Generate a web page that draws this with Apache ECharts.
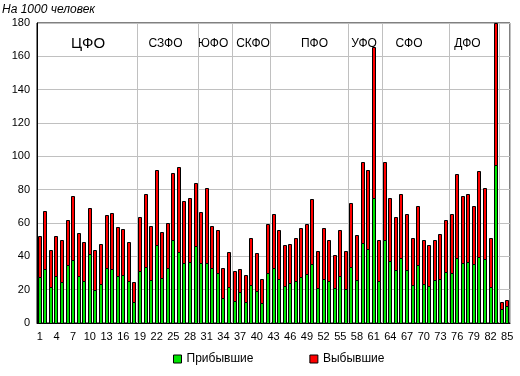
<!DOCTYPE html>
<html>
<head>
<meta charset="utf-8">
<script src="https://cdn.jsdelivr.net/npm/echarts@6/dist/echarts.min.js"></script>
<style>html,body{margin:0;padding:0;background:#fff}#c{width:520px;height:376px}</style>
</head>
<body>
<div id="c"></div>
<script>
// Categories (region numbers)
var categories = ['1','2','3','4','5','6','7','8','9','10','11','12','13','14','15','16','17','18','19','20',
'21','22','23','24','25','26','27','28','29','30','31','32','33','34','35','36','37','38','39','40',
'41','42','43','44','45','46','47','48','49','50','51','52','53','54','55','56','57','58','59','60',
'61','62','63','64','65','66','67','68','69','70','71','72','73','74','75','76','77','78','79','80',
'81','82','83','84','85'];

// Прибывшие (arrivals) per 1000
var arrived = [27.7,32.5,21.7,28.3,24.7,34.9,37.9,28.3,25.3,41.5,19.7,23.5,33.1,32.5,28.3,28.9,25.3,12.7,
31.3,33.7,25.9,46.7,27.1,33.1,49.9,42.5,36.1,36.7,46.3,
36.1,36.1,33.1,30.1,15.1,21.7,
13.3,18.7,12.7,22.9,19.3,12.1,30.1,
33.1,26.5,22.3,24.1,25.3,27.7,29.5,35.5,21.1,26.5,25.3,21.1,28.3,20.5,
33.7,25.9,48.1,44.5,75.1,25.3,
49.9,37.3,31.9,39.1,31.9,22.9,34.9,23.5,22.3,25.9,26.5,30.7,
30.1,39.1,36.1,36.7,35.5,39.7,38.5,21.7,95.1,
8.5,10.3];

// Выбывшие (departures) per 1000
var departed = [24.4,35.0,22.2,23.8,25.2,27.0,38.4,25.8,23.4,27.6,24.2,24.0,31.8,33.6,29.4,27.6,23.4,12.0,
32.4,43.8,32.4,45.2,27.6,27.0,40.2,51.2,37.2,38.4,37.8,
30.8,45.0,25.2,25.8,18.0,21.0,
18.0,13.8,16.2,28.2,22.8,14.4,29.4,
32.4,29.4,24.6,23.4,25.8,29.4,30.0,39.0,22.2,30.6,24.6,19.8,27.6,22.8,
38.4,27.0,48.6,47.4,90.6,24.6,
46.8,37.8,31.8,38.4,33.6,28.2,35.4,26.4,24.6,24.0,27.0,31.2,
35.4,50.4,40.2,40.8,34.8,51.6,42.6,29.4,90.0,
4.2,3.6];

// Federal district names and first category index (0-based) of each group
var districtNames = ['ЦФО','СЗФО','ЮФО','СКФО','ПФО','УФО','СФО','ДФО'];
var groupStarts = [18, 29, 35, 42, 56, 62, 74, 83];

var yTicks = [0,20,40,60,80,100,120,140,160,180];

var chart = echarts.init(document.getElementById('c'), null, {renderer:'canvas'});
var FONT = "'Liberation Sans', Arial, sans-serif";
var labelPos = [[88,44,15],[165.5,44,12],[213,44,12],[253,44,12],[314.5,44,12],[364,44,12],[409,44,12],[467.5,44,12]];
var YMAX = yTicks[yTicks.length-1];
var GREEN = '#00e400', RED = '#ff0000';

function makeRender(baseArr, valArr, color) {
  return function (params, api) {
    var i = params.dataIndex;
    var b = baseArr ? baseArr[i] : 0;
    var t = Math.min(b + valArr[i], YMAX);
    var p0 = api.coord([i, b]);
    var p1 = api.coord([i, t]);
    var x = Math.round(p0[0]) - 2 + 0.5;
    var yTop = Math.round(p1[1]) + 0.5;
    var yBot = Math.round(p0[1]) + 0.5;
    return {type: 'rect', shape: {x: x, y: yTop, width: 3, height: yBot - yTop},
      style: {fill: color, stroke: '#000', lineWidth: 1}};
  };
}

var option = {
  animation: false,
  backgroundColor: '#fff',
  textStyle: {fontFamily: FONT},
  grid: {left: 37, right: 10, top: 23, height: 300, show: true, borderColor: '#000', borderWidth: 1, containLabel: false},
  legend: {
    left: 168, top: 348, itemWidth: 8, itemHeight: 8, itemGap: 56,
    icon: 'rect',
    itemStyle: {borderColor: '#000', borderWidth: 1},
    textStyle: {fontFamily: FONT, fontSize: 12, color: '#000'},
    data: ['Прибывшие','Выбывшие']
  },
  xAxis: {
    type: 'category', data: categories,
    axisLine: {show: true, lineStyle: {color: '#000', width: 1}},
    axisTick: {show: false},
    axisLabel: {interval: 2, fontSize: 11, color: '#000', margin: 8, fontFamily: FONT},
    splitLine: {show: true, interval: function (idx) { return groupStarts.indexOf(idx) >= 0; }, lineStyle: {color: '#c0c0c0', width: 1}}
  },
  yAxis: {
    type: 'value', min: yTicks[0], max: YMAX, interval: 20,
    axisLine: {show: true, lineStyle: {color: '#000', width: 1}},
    axisTick: {show: false},
    axisLabel: {fontSize: 11, color: '#000', margin: 7, fontFamily: FONT},
    splitLine: {show: true, lineStyle: {color: '#c0c0c0', width: 1}}
  },
  series: [
    {name: 'Прибывшие', type: 'custom', renderItem: makeRender(null, arrived, GREEN),
     data: arrived.map(function (v, i) { return [i, v]; }), encode: {x: 0, y: 1},
     itemStyle: {color: GREEN, borderColor: '#000', borderWidth: 1}},
    {name: 'Выбывшие', type: 'custom', renderItem: makeRender(arrived, departed, RED),
     data: departed.map(function (v, i) { return [i, arrived[i] + v]; }), encode: {x: 0, y: 1},
     itemStyle: {color: RED, borderColor: '#000', borderWidth: 1}}
  ],
  graphic: [
    {type: 'text', left: 2, top: 4, style: {text: 'На 1000 человек', font: 'italic 12px ' + FONT, fill: '#000'}}
  ].concat(districtNames.map(function (n, i) {
    return {type: 'text', x: labelPos[i][0], y: labelPos[i][1],
      style: {text: n, fontSize: labelPos[i][2], fontFamily: FONT, fill: '#000', align: 'center', verticalAlign: 'middle'}};
  }))
};
chart.setOption(option);
</script>
</body>
</html>
